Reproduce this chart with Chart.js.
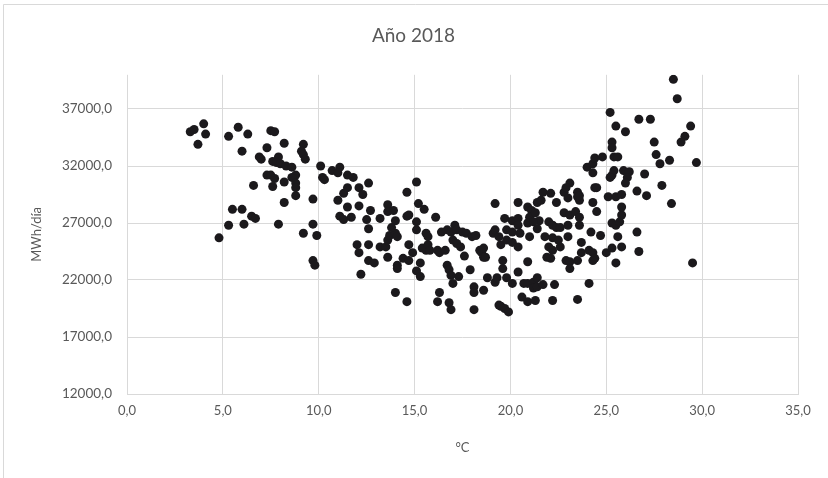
<!DOCTYPE html>
<html>
<head>
<meta charset="utf-8">
<title>Año 2018</title>
<script src="https://cdn.jsdelivr.net/npm/chart.js@4"></script>
<style>
  html, body { margin: 0; padding: 0; background: #fff; }
  #wrap { width: 828px; height: 478px; position: relative; }
</style>
</head>
<body>
<div id="wrap"><canvas id="scatter" width="828" height="478"></canvas></div>
<script>
// Temperatura media diaria (°C) y demanda (MWh/día)
const tempC = [
  3.3, 3.5, 4.0, 3.7, 4.1, 4.8, 5.3, 5.8, 6.3, 6.0, 5.5, 6.0, 5.3, 6.1, 6.5, 6.7, 6.6,
  7.3, 6.9, 7.0, 7.3, 7.5, 7.5, 7.7, 8.2, 7.7, 7.6, 7.6, 7.9, 7.8, 8.0, 8.3, 8.6, 8.8, 8.6, 8.2, 8.2, 7.9, 8.8, 8.8, 8.8,
  9.2, 9.1, 9.2, 9.3, 9.7, 9.7, 9.2, 9.9, 9.7, 9.8, 10.1, 10.2, 10.3, 10.7, 11.1, 11.0, 11.1, 11.3, 11.0, 11.3,
  11.5, 11.8, 11.5, 11.5, 12.1, 12.3, 11.7, 12.1, 12.0, 12.1, 12.2, 12.6, 12.7, 12.5, 12.6, 13.2, 12.6, 12.6, 12.9, 13.2, 13.5,
  13.6, 13.6, 13.9, 14.0, 13.6, 13.7, 14.0, 14.1, 13.6, 13.8, 14.1, 14.1, 14.4, 14.7, 14.7, 14.9, 14.6, 15.1, 15.2, 15.5,
  14.6, 14.7, 15.1, 15.1, 15.3, 15.1, 15.3, 14.0, 14.6,
  16.1, 15.6, 15.4, 15.7, 15.6, 15.7, 15.8, 16.2, 16.3, 16.6, 16.7, 16.9, 17.1, 17.2, 17.0, 17.2, 16.4, 16.7, 16.8, 16.9,
  17.0, 16.3, 16.2, 16.8, 16.9, 17.4, 17.3,
  17.5, 17.7, 18.0, 18.2, 17.6, 18.4, 18.5, 18.6, 19.1, 19.2, 19.2, 17.9, 18.1, 18.1, 18.6, 18.8, 19.2, 19.3, 18.1, 19.4,
  18.6, 18.7, 19.4, 19.5, 19.6, 19.6,
  19.5, 19.7, 19.9, 19.7, 20.1, 20.4, 19.8, 20.1, 20.4, 20.5, 19.8, 20.1, 20.4, 20.4, 20.9, 21.1, 21.0, 21.4, 21.3, 21.5,
  20.9, 21.2, 21.4, 21.0, 20.9, 20.4, 19.8, 20.1, 20.7, 20.9, 21.2, 21.4, 20.6, 20.9, 21.3, 21.2, 21.4,
  21.7, 22.1, 21.6, 22.4, 22.8, 23.1, 23.0, 23.5, 23.6, 23.5, 22.8, 23.1, 23.4, 23.6, 23.0, 23.6, 22.0, 22.2, 22.4, 22.6,
  21.8, 22.2, 22.5, 23.0, 22.0, 22.2, 22.6, 21.9, 22.1, 22.9, 23.1, 23.5, 23.1, 21.7, 22.3, 22.2, 23.5, 22.9, 23.6,
  24.0, 24.3, 24.4, 24.8, 24.3, 24.4, 24.5, 24.3, 24.5, 25.1, 25.5, 25.8, 24.2, 24.7, 23.7, 23.7, 24.1, 24.3, 24.4, 25.0,
  24.1, 24.3, 25.3, 25.8, 25.6, 25.5, 25.3, 25.5, 25.7, 25.8, 25.8,
  25.2, 25.5, 26.0, 26.7, 27.3, 29.4, 29.1, 28.9, 27.5, 25.3, 25.3, 27.6, 27.8, 28.3, 29.7, 25.4, 25.6, 25.4, 25.3, 25.2,
  25.9, 26.2, 26.1, 26.0, 27.0, 27.9, 26.6, 27.1, 28.4, 26.6, 26.7, 29.5, 28.5, 28.7
];
const mwhDia = [
  35000, 35200, 35700, 33900, 34800, 25700, 34600, 35400, 34800, 33300, 28200, 28200, 26800, 26900, 27600, 27400, 30300,
  33600, 32800, 32600, 31200, 31200, 35100, 35000, 34000, 30900, 30200, 32400, 32800, 32300, 32200, 32000, 31900, 31200, 31000, 30600, 28800, 26900, 30500, 30100, 29400,
  33900, 33300, 33000, 32600, 29100, 26900, 26100, 25900, 23700, 23300, 32000, 31000, 30800, 31600, 31900, 31400, 27600, 27300, 29000, 29600,
  31200, 31000, 30100, 28400, 30100, 29500, 27500, 28500, 25100, 24400, 22500, 30500, 28100, 27300, 26500, 27400, 25100, 23700, 23500, 24900, 24900,
  28600, 28000, 28100, 27200, 25500, 25900, 26100, 25800, 24000, 26600, 23300, 23000, 23900, 23700, 25100, 24400, 29700, 30600, 28700, 28200,
  27600, 27700, 27100, 26400, 23500, 22800, 22300, 20900, 20100,
  27500, 24600, 24800, 25100, 26100, 25800, 24600, 24600, 24400, 24600, 26400, 26200, 26800, 26400, 25500, 25200, 26200, 23300, 22900, 22400,
  21700, 20900, 20100, 20000, 19400, 24900, 22300,
  26200, 26100, 25800, 25900, 24100, 24600, 24400, 24000, 26100, 26400, 28700, 22900, 21400, 20900, 21100, 22200, 21800, 22200, 19400, 19800,
  24800, 24000, 25800, 25100, 23700, 23000,
  19700, 19500, 19200, 27400, 27200, 27400, 26400, 26200, 26800, 26100, 25500, 25300, 24900, 28800, 28400, 28100, 27500, 28800, 27900, 27200,
  27000, 27100, 26500, 25800, 23600, 22700, 22200, 21700, 21700, 21700, 21800, 22200, 20500, 20100, 20200, 21300, 21400,
  29700, 29600, 29000, 28800, 29700, 30500, 29200, 29700, 29000, 29300, 27900, 27700, 28000, 27500, 26800, 26800, 27100, 26800, 26600, 26600,
  25800, 25700, 25500, 25800, 24900, 24600, 24900, 24000, 23900, 23700, 23600, 23700, 23000, 21600, 21600, 20200, 20300, 30100, 29400,
  31900, 32200, 32700, 32800, 31400, 30100, 30100, 28800, 28000, 29300, 29300, 29500, 26200, 25900, 25300, 24400, 24600, 24400, 23900, 24400,
  21700, 23700, 24800, 24900, 25800, 23500, 27000, 26800, 27100, 27700, 28400,
  36700, 35500, 35000, 36100, 36100, 35500, 34600, 34100, 34100, 34100, 33600, 33000, 32200, 32500, 32300, 32800, 32800, 31600, 31200, 31000,
  31600, 31500, 31000, 30500, 31300, 30300, 29800, 29400, 28700, 26200, 24500, 23500, 39600, 37900
];

// ejes (como en la hoja de Excel)
const xTicks = [0, 5, 10, 15, 20, 25, 30, 35];
const yTicks = [12000, 17000, 22000, 27000, 32000, 37000];
const yMax = 40000;

const points = tempC.map((t, i) => ({ x: t, y: mwhDia[i] }));

const gray = '#595959';
const gridGray = '#d9d9d9';
const fontFam = 'Lato, "Open Sans", sans-serif';
const fmt = v => v.toFixed(1).replace('.', ',');

// fondo blanco y marco del área del gráfico
const chartFrame = {
  id: 'chartFrame',
  beforeDraw(chart) {
    const c = chart.ctx;
    c.save();
    c.fillStyle = '#fff';
    c.fillRect(0, 0, chart.width, chart.height);
    c.strokeStyle = gridGray;
    c.lineWidth = 1;
    c.beginPath();
    c.moveTo(3.5, chart.height);
    c.lineTo(3.5, 4.5);
    c.lineTo(chart.width, 4.5);
    c.stroke();
    c.restore();
  }
};

const ctx = document.getElementById('scatter').getContext('2d');
const chart = new Chart(ctx, {
  type: 'scatter',
  data: {
    datasets: [{
      label: 'MWh/día',
      data: points,
      backgroundColor: '#1b191c',
      borderColor: '#1b191c',
      pointRadius: 4.5,
      pointHoverRadius: 4.5,
      borderWidth: 0
    }]
  },
  options: {
    responsive: false,
    animation: false,
    devicePixelRatio: 1,
    layout: { padding: { left: 29, right: 30, top: 0, bottom: 22 } },
    plugins: {
      legend: { display: false },
      tooltip: { enabled: false },
      title: {
        display: true,
        text: 'Año 2018',
        color: gray,
        font: { family: fontFam, size: 19, weight: 'normal' },
        padding: { top: 24, bottom: 28 }
      }
    },
    scales: {
      x: {
        type: 'linear',
        min: xTicks[0],
        max: xTicks[xTicks.length - 1],
        afterBuildTicks(scale) {
          scale.ticks = xTicks.map(v => ({ value: v }));
        },
        ticks: {
          color: gray,
          font: { family: fontFam, size: 13 },
          padding: 9,
          callback: v => fmt(v)
        },
        grid: { color: gridGray, drawTicks: false },
        border: { color: gridGray },
        title: {
          display: true,
          text: '°C',
          color: gray,
          font: { family: fontFam, size: 13 },
          padding: { top: 14, bottom: 0 }
        },
        afterFit(scale) { scale.height = 62; }
      },
      y: {
        type: 'linear',
        min: yTicks[0],
        max: yMax,
        afterBuildTicks(scale) {
          scale.ticks = yTicks.map(v => ({ value: v }));
        },
        ticks: {
          color: gray,
          font: { family: fontFam, size: 13.5 },
          padding: 15,
          callback: v => fmt(v)
        },
        grid: { color: gridGray, drawTicks: false },
        border: { display: false },
        title: {
          display: true,
          text: 'MWh/día',
          color: gray,
          font: { family: fontFam, size: 13 },
          padding: { top: 0, bottom: 0 }
        },
        afterFit(scale) { scale.width = 98; }
      }
    }
  },
  plugins: [chartFrame]
});
</script>
</body>
</html>
